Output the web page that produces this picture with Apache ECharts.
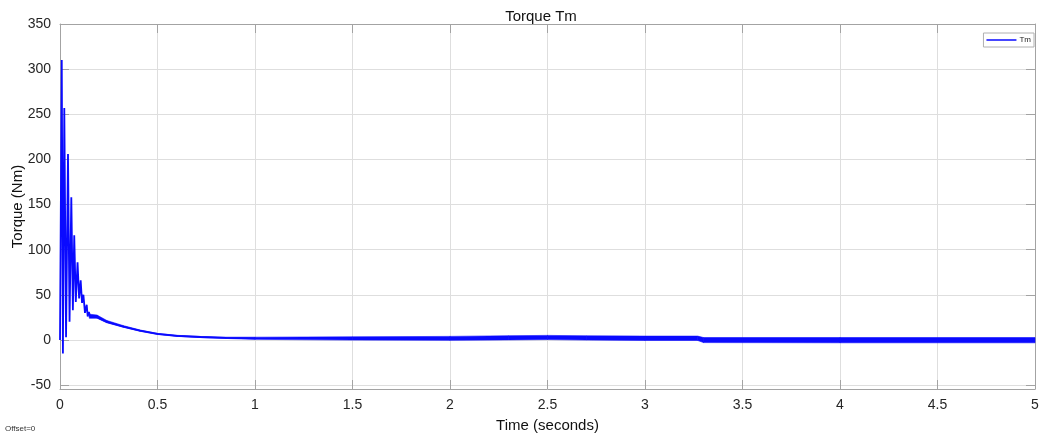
<!DOCTYPE html>
<html>
<head>
<meta charset="utf-8">
<script src="https://cdn.jsdelivr.net/npm/echarts@6/dist/echarts.min.js"></script>
<style>
html,body{margin:0;padding:0;background:#fff;}
#chart{width:1041px;height:436px;}
#offset{position:absolute;left:5px;top:424px;font:8px "Liberation Sans",Arial,sans-serif;color:#333;}
</style>
</head>
<body>
<div id="chart"></div>
<div id="offset">Offset=0</div>
<script>
// transient part (time in s, torque in Nm)
const transientTime = [0, 0.009, 0.015, 0.022, 0.031, 0.041, 0.049, 0.058, 0.066, 0.073, 0.081, 0.09, 0.098, 0.106, 0.113, 0.12, 0.128, 0.137, 0.142, 0.148, 0.155, 0.165, 0.188, 0.24, 0.325, 0.41, 0.5, 0.6, 0.72, 0.85, 1.0];
const transientTorque = [0, 310, -15, 257, 3, 206, 20, 158, 33, 116, 42, 86, 46, 66, 41, 50, 30, 39, 26, 31, 26, 28, 25.5, 20, 14.8, 10.3, 6.6, 4.5, 3.2, 2.3, 1.8];
// ripple band (lower / upper envelope)
const bandTime  = [0.15, 0.19, 0.24, 0.325, 0.41, 0.5, 0.6, 0.72, 0.85, 1.0, 1.5, 2.0, 2.3, 2.5, 2.7, 3.0, 3.27, 3.3, 4.0, 5.0];
const bandLower = [24, 24, 19, 14.0, 9.6, 6.0, 3.9, 2.6, 1.6, 0.6, -0.2, -0.5, 0.0, 0.4, -0.2, -0.6, -0.6, -3.0, -3.2, -3.2];
const bandUpper = [28.5, 27.5, 21.5, 15.8, 11.0, 7.2, 5.1, 3.8, 3.0, 3.0, 3.4, 3.9, 4.6, 5.0, 4.5, 4.2, 4.2, 2.6, 2.6, 2.6];
const yTicks = [-50, 0, 50, 100, 150, 200, 250, 300, 350];

const lineData = transientTime.map((t, i) => [t, transientTorque[i]]);
const bandData = bandTime.map((t, i) => [t, bandLower[i], bandUpper[i]]);

const font = '"Liberation Sans", Arial, sans-serif';
const frame = '#a3a3a3';
const gridC = '#dedede';
const blue = '#0a0aff';

function renderBand(params, api) {
  const i = params.dataIndex;
  if (i >= bandTime.length - 1) return null;
  const p1 = api.coord([api.value(0), api.value(1)]);
  const p2 = api.coord([bandTime[i + 1], bandLower[i + 1]]);
  const p3 = api.coord([bandTime[i + 1], bandUpper[i + 1]]);
  const p4 = api.coord([api.value(0), api.value(2)]);
  return {
    type: 'polygon',
    shape: {points: [p1, p2, p3, p4]},
    style: {fill: blue, stroke: blue, lineWidth: 0.6}
  };
}

const chart = echarts.init(document.getElementById('chart'), null, {renderer: 'canvas'});
chart.setOption({
  animation: false,
  title: {
    text: 'Torque Tm', left: 536, top: 4, textAlign: 'center',
    textStyle: {fontFamily: font, fontSize: 15, fontWeight: 'normal', color: '#111'}
  },
  legend: {
    right: 7, top: 33, data: [{name: 'Tm', icon: 'rect'}],
    itemWidth: 30, itemHeight: 1.5, itemGap: 4,
    padding: [3, 3, 3, 3],
    borderColor: '#b0b0b0', borderWidth: 1, backgroundColor: '#fff',
    textStyle: {fontFamily: font, fontSize: 8, color: '#222', padding: [0, 0, 0, -2]}
  },
  grid: {left: 60, right: 6, top: 24, bottom: 47, containLabel: false, outerBoundsMode: 'none'},
  xAxis: [{
    type: 'value', min: 0, max: 5, interval: 0.5,
    name: 'Time (seconds)', nameLocation: 'middle', nameGap: 29, nameMoveOverlap: false,
    nameTextStyle: {fontFamily: font, fontSize: 15, color: '#111'},
    axisLine: {show: true, onZero: false, lineStyle: {color: frame}},
    axisTick: {show: true, inside: true, length: 9, lineStyle: {color: frame}},
    axisLabel: {fontFamily: font, fontSize: 14, color: '#262626', margin: 9},
    splitLine: {show: true, lineStyle: {color: gridC}}
  }, {
    type: 'value', position: 'top', min: 0, max: 5, interval: 0.5,
    axisLine: {show: true, onZero: false, lineStyle: {color: frame}},
    axisTick: {show: true, inside: true, length: 9, lineStyle: {color: frame}},
    axisLabel: {show: false}, splitLine: {show: false}
  }],
  yAxis: [{
    type: 'value', min: -54.4, max: 350,
    name: 'Torque (Nm)', nameLocation: 'middle', nameGap: 35, nameMoveOverlap: false,
    nameTextStyle: {fontFamily: font, fontSize: 15, color: '#111'},
    axisLine: {show: true, onZero: false, lineStyle: {color: frame}},
    axisTick: {show: true, inside: true, length: 9, customValues: yTicks, lineStyle: {color: frame}},
    axisLabel: {fontFamily: font, fontSize: 14, color: '#262626', margin: 9, customValues: yTicks},
    splitLine: {show: true, lineStyle: {color: gridC}}
  }, {
    type: 'value', position: 'right', min: -54.4, max: 350,
    axisLine: {show: true, onZero: false, lineStyle: {color: frame}},
    axisTick: {show: true, inside: true, length: 9, customValues: yTicks, lineStyle: {color: frame}},
    axisLabel: {show: false, customValues: yTicks}, splitLine: {show: false}
  }],
  series: [
    {
      name: 'Tm', type: 'line', data: lineData, showSymbol: false, symbol: 'none',
      lineStyle: {color: blue, width: 1.8}, itemStyle: {color: blue}, z: 3
    },
    {
      name: 'band', type: 'custom', data: bandData, renderItem: renderBand,
      encode: {x: 0, y: [1, 2]}, z: 2, silent: true
    }
  ]
});
</script>
</body>
</html>
